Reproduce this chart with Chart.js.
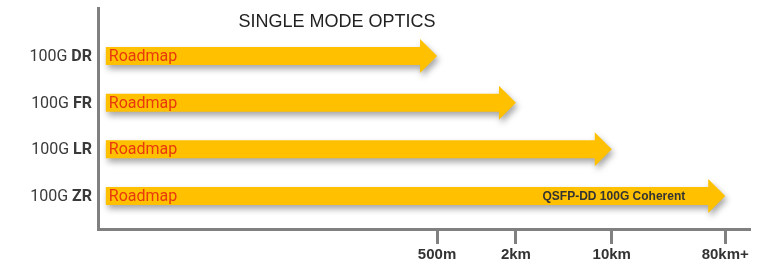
<!DOCTYPE html>
<html lang="en">
  <head>
    <meta charset="UTF-8" />
    <title>Single Mode Optics</title>
    <style>
      body {
        margin: 0;
        background-color: white;
      }
      .chart-container {
        position: relative;
        width: 762px;
        height: 269px;
      }
    </style>
    <script src="https://cdn.jsdelivr.net/npm/chart.js@4.4.1/dist/chart.umd.min.js"></script>
  </head>
  <body>
    <div class="chart-container">
      <canvas id="opticsChart"></canvas>
    </div>

    <script>
      // Data
      const speed = "100G";
      const rows = ["DR", "FR", "LR", "ZR"];
      const reachLabels = ["500m", "2km", "10km", "80km+"];
      const reachPos = [52, 64.1, 78.8, 96.2]; // where each reach sits on the axis
      const rowReach = [0, 1, 2, 3]; // index into reachLabels for each row
      const barStart = 1.2;
      const barText = ["Roadmap", "Roadmap", "Roadmap", "Roadmap"];
      const noteText = ["", "", "", "QSFP-DD 100G Coherent"];
      const title = "SINGLE MODE OPTICS";

      const bars = rows.map((r, i) => ({ y: i, x: [barStart, reachPos[rowReach[i]]] }));

      // arrows, row labels and the title
      const arrowPlugin = {
        id: "arrows",
        afterDatasetsDraw(chart) {
          const ctx = chart.ctx;
          const meta = chart.getDatasetMeta(0);
          const yScale = chart.scales.y;
          const area = chart.chartArea;

          ctx.save();
          meta.data.forEach((bar, i) => {
            const x0 = bar.base;
            const x1 = bar.x;
            const y = bar.y;
            const body = 9;
            const head = 17;
            const headLen = 17;

            ctx.save();
            ctx.shadowColor = "rgba(0, 0, 0, 0.35)";
            ctx.shadowBlur = 6;
            ctx.shadowOffsetX = 2;
            ctx.shadowOffsetY = 4;
            ctx.fillStyle = "#FFC000";
            ctx.beginPath();
            ctx.moveTo(x0, y - body);
            ctx.lineTo(x1 - headLen, y - body);
            ctx.lineTo(x1 - headLen, y - head);
            ctx.lineTo(x1, y);
            ctx.lineTo(x1 - headLen, y + head);
            ctx.lineTo(x1 - headLen, y + body);
            ctx.lineTo(x0, y + body);
            ctx.closePath();
            ctx.fill();
            ctx.restore();

            ctx.textBaseline = "middle";
            ctx.textAlign = "left";
            ctx.font = "16px Roboto";
            ctx.fillStyle = "#E8380D";
            ctx.fillText(barText[i], x0 + 3, y + 1);

            if (noteText[i]) {
              ctx.textAlign = "right";
              ctx.font = "bold 12px 'Liberation Sans', Arial";
              ctx.fillStyle = "#333";
              ctx.fillText(noteText[i], x1 - headLen - 23, y + 1);
            }

            // row label: "100G" regular, code bold
            const ly = yScale.getPixelForValue(i);
            ctx.textAlign = "right";
            ctx.font = "bold 16px Roboto";
            ctx.fillStyle = "#3a3a3a";
            const codeW = ctx.measureText(rows[i]).width;
            ctx.fillText(rows[i], 92, ly + 1);
            ctx.font = "16px Roboto";
            ctx.fillText(speed + " ", 92 - codeW, ly + 1);
          });

          ctx.textAlign = "center";
          ctx.font = "18px 'Liberation Sans', Arial";
          ctx.fillStyle = "#222";
          ctx.fillText(title, 337, area.top + 14);
          ctx.restore();
        },
      };

      const ctx = document.getElementById("opticsChart").getContext("2d");
      new Chart(ctx, {
        type: "bar",
        data: {
          datasets: [
            {
              data: bars,
              backgroundColor: "rgba(0, 0, 0, 0)",
              borderWidth: 0,
              barThickness: 18,
            },
          ],
        },
        options: {
          indexAxis: "y",
          responsive: true,
          maintainAspectRatio: false,
          animation: false,
          layout: { padding: { top: 8, right: 12, bottom: 0, left: 0 } },
          scales: {
            x: {
              type: "linear",
              min: 0,
              max: 100,
              afterBuildTicks(scale) {
                scale.ticks = reachPos.map((v) => ({ value: v }));
              },
              afterFit(scale) {
                scale.height = 40;
              },
              border: { color: "#808080", width: 3 },
              grid: {
                drawOnChartArea: false,
                drawTicks: true,
                tickLength: 15,
                tickWidth: 3,
                tickColor: "#808080",
              },
              ticks: {
                padding: 2,
                color: "#333",
                font: { family: "'Liberation Sans', Arial", size: 15, weight: "bold" },
                callback: (value, index) => reachLabels[index],
              },
            },
            y: {
              type: "linear",
              reverse: true,
              offset: false,
              min: -1.03,
              max: 3.71,
              afterFit(scale) {
                scale.width = 98;
              },
              border: { color: "#808080", width: 3 },
              grid: { display: false },
              ticks: { display: false },
            },
          },
          plugins: {
            legend: { display: false },
            tooltip: { enabled: false },
          },
        },
        plugins: [arrowPlugin],
      });
    </script>
  </body>
</html>
